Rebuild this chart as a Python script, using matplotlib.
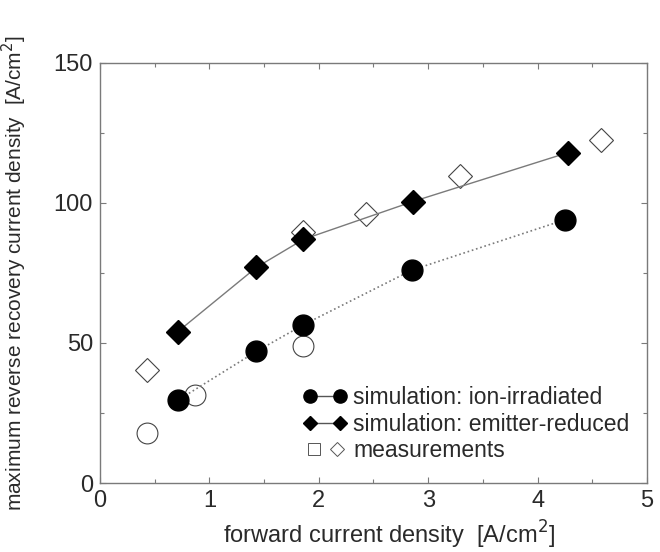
import matplotlib
matplotlib.use('Agg')
import matplotlib.pyplot as plt
from matplotlib.lines import Line2D
from matplotlib.legend_handler import HandlerTuple, HandlerLine2D

plt.rcParams['font.family'] = ['Liberation Sans', 'DejaVu Sans']

# simulation: ion-irradiated
sim_ion_x = [0.71, 1.43, 1.86, 2.85, 4.25]
sim_ion_y = [29.5, 47, 56.5, 76, 94]

# simulation: emitter-reduced
sim_em_x = [0.71, 1.43, 1.86, 2.86, 4.28]
sim_em_y = [54, 77, 87, 100.5, 118]

# measurements
meas_ion_x = [0.43, 0.87, 1.86]
meas_ion_y = [18, 31.5, 49]
meas_em_x = [0.43, 1.86, 2.43, 3.29, 4.58]
meas_em_y = [40.5, 89.5, 96, 109.5, 122.5]

gray = '#7a7a7a'
txt = '#2a2a2a'

fig = plt.figure(figsize=(6.6, 5.52), dpi=100)
ax = fig.add_axes([0.1515, 0.125, 0.8288, 0.761])

ax.plot(meas_ion_x, meas_ion_y, 'o', ms=15, mfc='white', mec='#444444', mew=0.8, zorder=3)
ax.plot(meas_em_x, meas_em_y, 'D', ms=12, mfc='white', mec='#444444', mew=0.8, zorder=3)
ax.plot(sim_ion_x, sim_ion_y, ':', color=gray, lw=1.2, marker='o', ms=15,
        mfc='black', mec='black', zorder=4)
ax.plot(sim_em_x, sim_em_y, '-', color=gray, lw=1.0, marker='D', ms=12.5,
        mfc='black', mec='black', zorder=4)

ax.set_xlim(0, 5)
ax.set_ylim(0, 150)
ax.set_xticks([0, 1, 2, 3, 4, 5])
ax.set_yticks([0, 50, 100, 150])
ax.set_xticks([0.5, 1.5, 2.5, 3.5, 4.5], minor=True)
ax.set_yticks([25, 75, 125], minor=True)
ax.tick_params(which='both', direction='in', top=True, right=True,
               colors=gray, labelcolor=txt, labelsize=17, width=0.8)
ax.tick_params(which='major', length=4, pad=5)
ax.tick_params(which='minor', length=3)
for s in ax.spines.values():
    s.set_color(gray)
    s.set_linewidth(1.0)

ax.set_xlabel('forward current density  [A/cm$^2$]', fontsize=17, color=txt)
ax.xaxis.set_label_coords(0.528, -0.085)
ax.set_ylabel('maximum reverse recovery current density  [A/cm$^2$]', fontsize=15,
              color=txt)
ax.yaxis.set_label_coords(-0.13, 0.5)

h_ion = Line2D([], [], color='#555555', lw=1, marker='o', ms=9.5, mfc='black', mec='black')
h_em = Line2D([], [], color='#555555', lw=1, marker='D', ms=7.5, mfc='black', mec='black')
h_sq = Line2D([], [], ls='none', marker='s', ms=8, mfc='white', mec='#555555', mew=0.7)
h_di = Line2D([], [], ls='none', marker='D', ms=7, mfc='white', mec='#555555', mew=0.7)
ax.legend([h_ion, h_em, (h_sq, h_di)],
          ['simulation: ion-irradiated', 'simulation: emitter-reduced', 'measurements'],
          handler_map={tuple: HandlerTuple(ndivide=None, pad=0.1),
                       h_sq: HandlerLine2D(numpoints=1),
                       h_di: HandlerLine2D(numpoints=1)},
          numpoints=2, frameon=False, fontsize=16.5, labelcolor=txt,
          loc='upper left', bbox_to_anchor=(0.351, 0.257),
          handlelength=1.9, handletextpad=0.26, labelspacing=0.15, borderpad=0)

fig.savefig('out.png', dpi=100)
